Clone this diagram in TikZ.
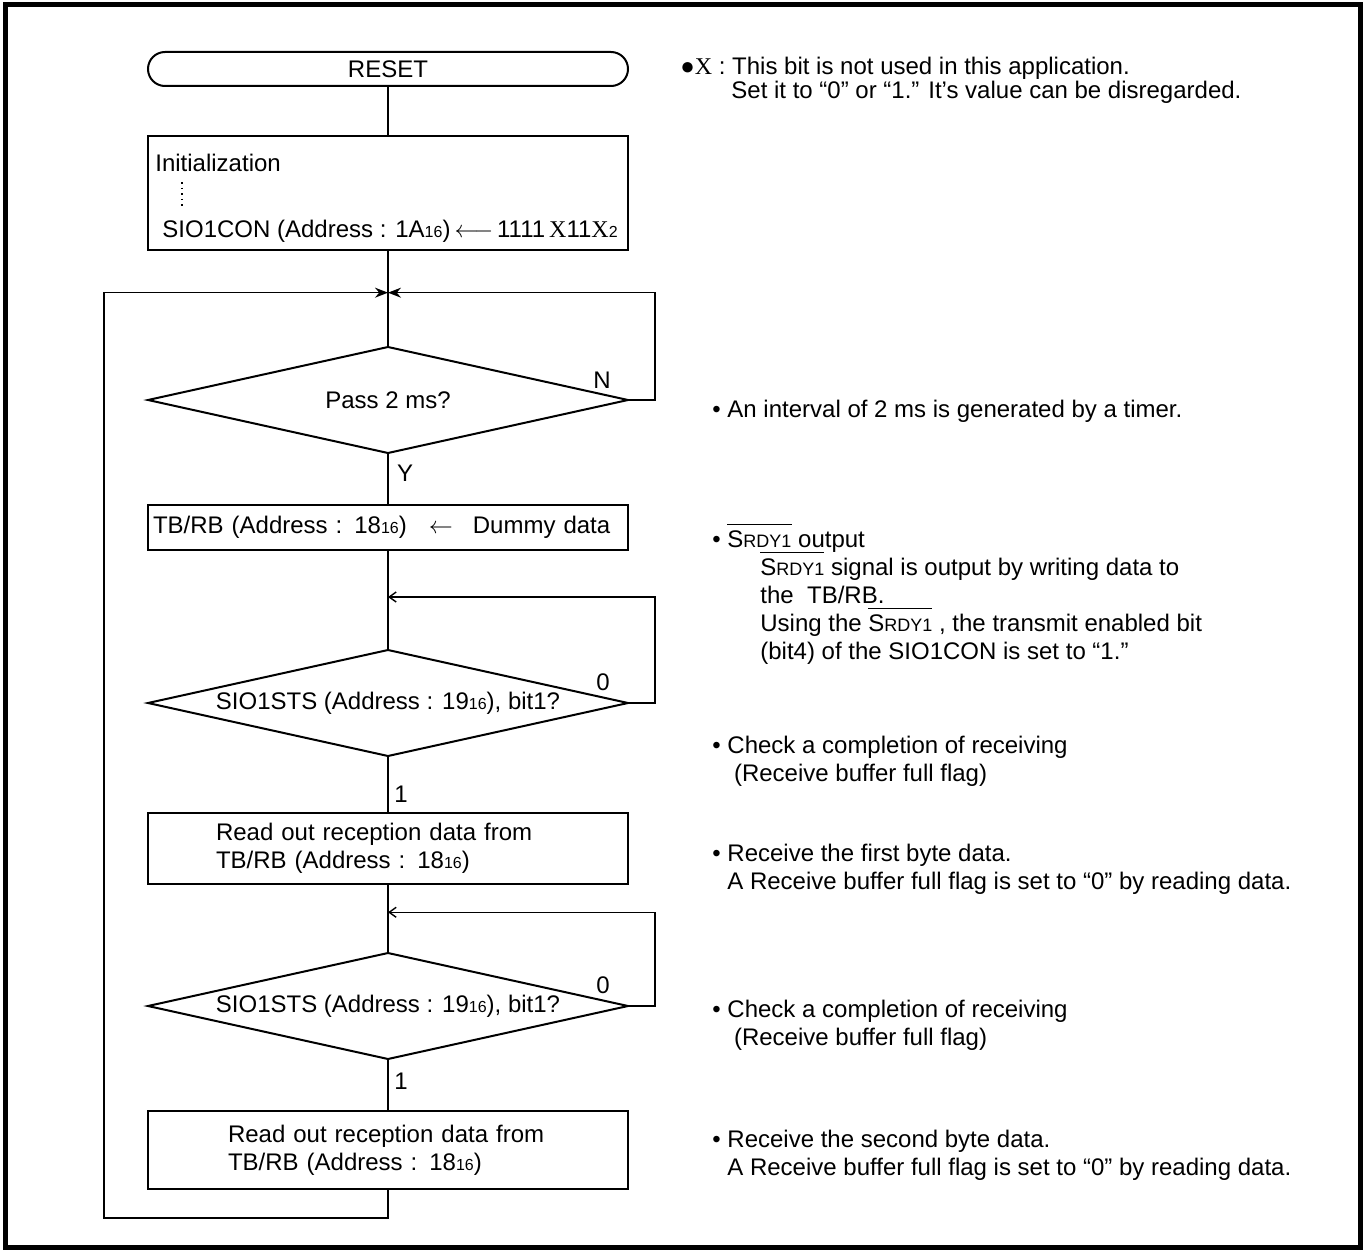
\documentclass[tikz,border=0pt]{standalone}
\usepackage{fontspec}
\setmainfont{Liberation Sans}
\newfontfamily\timesx{Liberation Serif}
\usetikzlibrary{arrows.meta,positioning,shapes.geometric,calc}
\newcommand{\hx}[1]{{\footnotesize #1}}
\newcommand{\srdy}{\setbox0\hbox{S{\small RDY1}}\rlap{\smash{\raisebox{11pt}{\rule{\wd0}{0.5pt}}}}\box0}

\begin{document}
\begin{tikzpicture}[x=0.5pt,y=-0.5pt,
  every node/.style={font=\fontsize{12}{14}\selectfont},
  flowline/.style={line width=0.7pt},
  term/.style={draw,line width=1pt,rounded corners=8.5pt,minimum width=240pt,minimum height=17pt,inner sep=0pt,outer sep=0pt},
  procbox/.style={draw,line width=1pt,minimum width=240pt,inner ysep=0pt,outer sep=0pt,align=left},
  decide/.style={draw,diamond,aspect=4.5,line width=1pt,minimum width=240pt,minimum height=53pt,inner sep=0pt,outer sep=0pt},
  note/.style={anchor=base west,align=left,inner sep=0pt},
  flag/.style={inner sep=0pt},
  loopin/.style={flowline,-{Stealth[length=6.5pt,width=5pt]}},
  waitin/.style={flowline,-{Straight Barb[length=3.5pt,width=5pt]}}]
\useasboundingbox (0,0) rectangle (1365,1252);
\draw[line width=2.5pt] (5,5) rectangle (1360,1247);

% flow chart
\node[term] (reset) at (388,69) {RESET};
\node[procbox,minimum height=57pt,below=25pt of reset] (init) {};
\node[note] (initlbl) at ([shift={(7,35)}]init.north west) {Initialization};
\node[note] (initset) at ([shift={(14,101)}]init.north west) {SIO1CON (Address : 1A\hx{16})\,$\longleftarrow$\,1111\,{\timesx X}11{\timesx X}\hx{2}};
\draw[line width=0.8pt,dash pattern=on 0.8pt off 2pt] ([shift={(34,46)}]init.north west) -- ++(0,24);
\node[decide,below=48.5pt of init] (pass) {Pass 2 ms?};
\node[procbox,minimum height=22.5pt,below=26pt of pass,text width=235pt,inner xsep=2.5pt] (tbset) {TB/RB (Address : 18\hx{16})\hspace{11pt}$\leftarrow$\hspace{10pt}Dummy data};
\node[decide,below=50pt of tbset] (chk1) {SIO1STS (Address : 19\hx{16}), bit1?};
\node[procbox,minimum height=35.5pt,below=28.5pt of chk1,text width=172pt,inner xsep=34pt] (read1) {Read out reception data from\\TB/RB (Address : 18\hx{16})};
\node[decide,below=34.5pt of read1] (chk2) {SIO1STS (Address : 19\hx{16}), bit1?};
\node[procbox,minimum height=39pt,below=26pt of chk2,text width=160pt,inner xsep=40pt] (read2) {Read out reception data from\\TB/RB (Address : 18\hx{16})};

\node[flag] (passn) at ([shift={(-26,-20)}]pass.east) {N};
\node[flag] (passy) at ([shift={(17,20)}]pass.south) {Y};
\node[flag] (chk1no) at ([shift={(-25,-21)}]chk1.east) {0};
\node[flag] (chk1yes) at ([shift={(13,38)}]chk1.south) {1};
\node[flag] (chk2no) at ([shift={(-25,-21)}]chk2.east) {0};
\node[flag] (chk2yes) at ([shift={(13,22)}]chk2.south) {1};

\coordinate (m1) at ($(init.south)!0.44!(pass.north)$);
\coordinate (m2) at ($(tbset.south)!0.47!(chk1.north)$);
\coordinate (m3) at ($(read1.south)!0.41!(chk2.north)$);
\coordinate (back) at ([shift={(-284,29)}]read2.south);

\draw[flowline] (reset) -- (init);
\draw[flowline] (init) -- (pass);
\draw[flowline] (pass) -- (tbset);
\draw[flowline] (tbset) -- (chk1);
\draw[flowline] (chk1) -- (read1);
\draw[flowline] (read1) -- (chk2);
\draw[flowline] (chk2) -- (read2);
\draw[loopin] (pass.east) -- ++(27,0) |- (m1);
\draw[loopin] (read2.south) |- (back) |- (m1);
\draw[waitin] (chk1.east) -- ++(27,0) |- (m2);
\draw[waitin] (chk2.east) -- ++(27,0) |- (m3);

% notes (placed at the baseline of their last line)
\node[note,font=\fontsize{12}{12}\selectfont] (notex) at (680,98) {●{\timesx X} : This bit is not used in this application.\\\hspace*{25.5pt}Set it to “0” or “1.” It’s value can be disregarded.};
\node[note] (notetimer) at (712,417) {• An interval of 2 ms is generated by a timer.};
\node[note] (notesrdy) at (712,659) {• \srdy{} output\\\hspace*{24pt}\srdy{} signal is output by writing data to\\\hspace*{24pt}the\ \ TB/RB.\\\hspace*{24pt}Using the \srdy{} , the transmit enabled bit\\\hspace*{24pt}(bit4) of the SIO1CON is set to “1.”};
\node[note] (notechk1) at (712,781) {• Check a completion of receiving\\\hspace*{7.5pt} (Receive buffer full flag)};
\node[note] (noteread1) at (712,889) {• Receive the first byte data.\\\hspace*{7.5pt}A Receive buffer full flag is set to “0” by reading data.};
\node[note] (notechk2) at (712,1045) {• Check a completion of receiving\\\hspace*{7.5pt} (Receive buffer full flag)};
\node[note] (noteread2) at (712,1175) {• Receive the second byte data.\\\hspace*{7.5pt}A Receive buffer full flag is set to “0” by reading data.};
\end{tikzpicture}
\end{document}
